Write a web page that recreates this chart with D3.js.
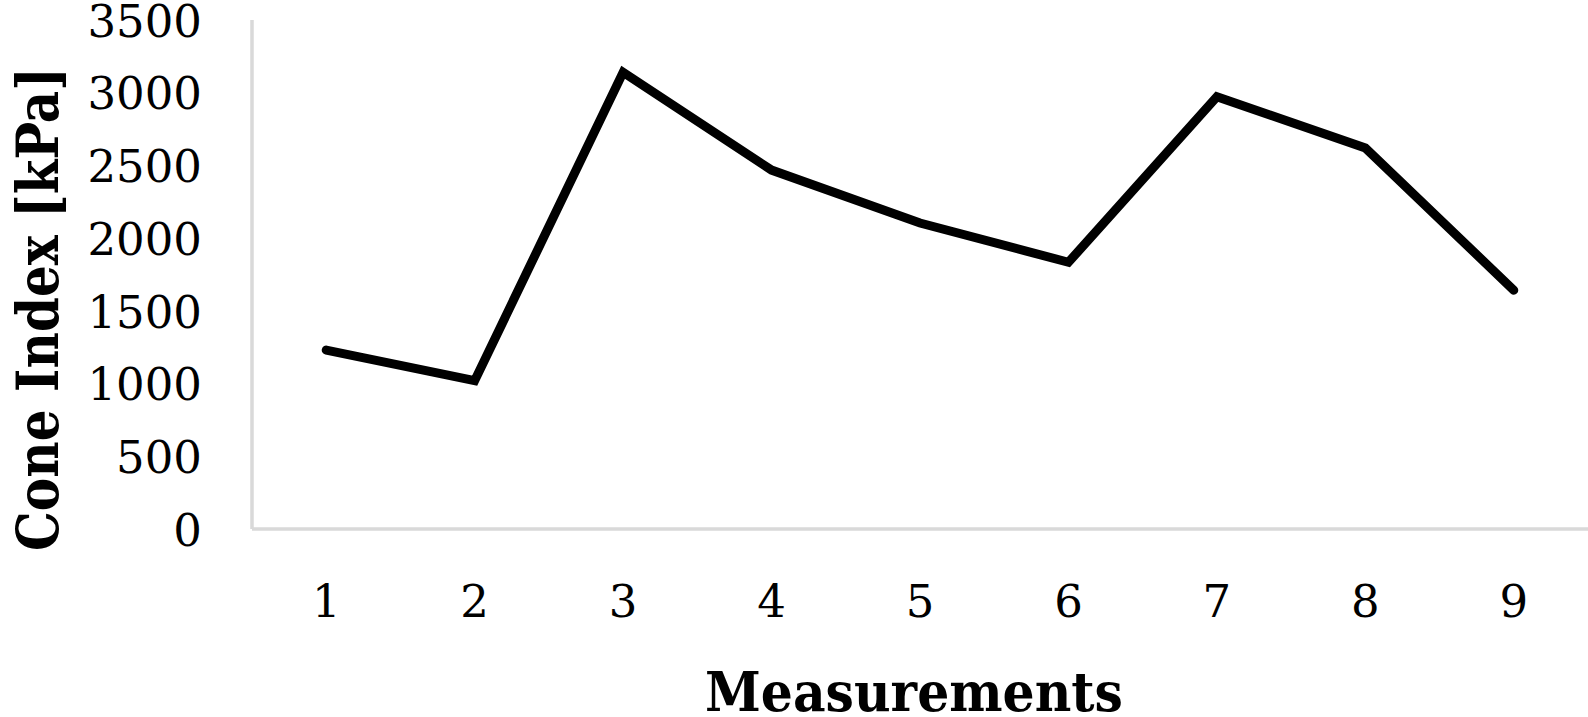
<!DOCTYPE html>
<html>
<head>
<meta charset="utf-8">
<script src="https://cdn.jsdelivr.net/npm/d3@7"></script>
<style>
  html, body { margin: 0; padding: 0; background: #fff; }
  svg { display: block; }
</style>
</head>
<body>
<svg id="chart" width="1588" height="717"></svg>
<script>
const categories = ["1", "2", "3", "4", "5", "6", "7", "8", "9"];
const coneIndex = [1230, 1020, 3140, 2468, 2104, 1834, 2972, 2620, 1642];
const yTicks = [0, 500, 1000, 1500, 2000, 2500, 3000, 3500];
const yTitle = "Cone Index [kPa]";
const xTitle = "Measurements";

const W = 1588, H = 717;
const margin = { left: 252, right: 0, top: 20, bottom: 188 };
const svg = d3.select("#chart");
const font = "'DejaVu Serif', 'Liberation Serif', serif";

const x = d3.scaleBand().domain(categories).range([margin.left, W - margin.right]);
const y = d3.scaleLinear().domain([0, 3500]).range([H - margin.bottom, margin.top]);

// Axis lines (light gray)
const axisColor = "#d9d9d9";
svg.append("line")
  .attr("x1", margin.left).attr("x2", margin.left)
  .attr("y1", y(3500)).attr("y2", y(0))
  .attr("stroke", axisColor).attr("stroke-width", 3.5);
svg.append("line")
  .attr("x1", margin.left).attr("x2", W - margin.right)
  .attr("y1", y(0)).attr("y2", y(0))
  .attr("stroke", axisColor).attr("stroke-width", 3.5);

// Y axis tick labels
const yAxis = d3.axisLeft(y).tickValues(yTicks).tickSize(0).tickPadding(50).tickFormat(d3.format("d"));
const gy = svg.append("g").attr("transform", `translate(${margin.left},0)`).call(yAxis);
gy.select(".domain").remove();
gy.selectAll("text")
  .attr("font-family", font).attr("font-size", 45).attr("fill", "#000")
  .attr("dy", "0.36em");

// X axis tick labels
const xAxis = d3.axisBottom(x).tickSize(0).tickPadding(0);
const gx = svg.append("g").attr("transform", `translate(0,${y(0)})`).call(xAxis);
gx.select(".domain").remove();
gx.selectAll("text")
  .attr("font-family", font).attr("font-size", 45).attr("fill", "#000")
  .attr("y", 88).attr("dy", 0);

// Line
const line = d3.line()
  .x((d, i) => x(categories[i]) + x.bandwidth() / 2)
  .y(d => y(d));
svg.append("path")
  .datum(coneIndex)
  .attr("d", line)
  .attr("fill", "none")
  .attr("stroke", "#000")
  .attr("stroke-width", 9)
  .attr("stroke-linejoin", "miter")
  .attr("stroke-linecap", "round");

// Axis titles
svg.append("text")
  .attr("x", 914).attr("y", 711)
  .attr("text-anchor", "middle")
  .attr("font-family", font).attr("font-weight", "bold").attr("font-size", 54)
  .attr("textLength", 418).attr("lengthAdjust", "spacingAndGlyphs")
  .text(xTitle);

svg.append("text")
  .attr("transform", "translate(58,309) rotate(-90)")
  .attr("text-anchor", "middle")
  .attr("font-family", font).attr("font-weight", "bold").attr("font-size", 58)
  .attr("textLength", 484).attr("lengthAdjust", "spacingAndGlyphs")
  .text(yTitle);
</script>
</body>
</html>
